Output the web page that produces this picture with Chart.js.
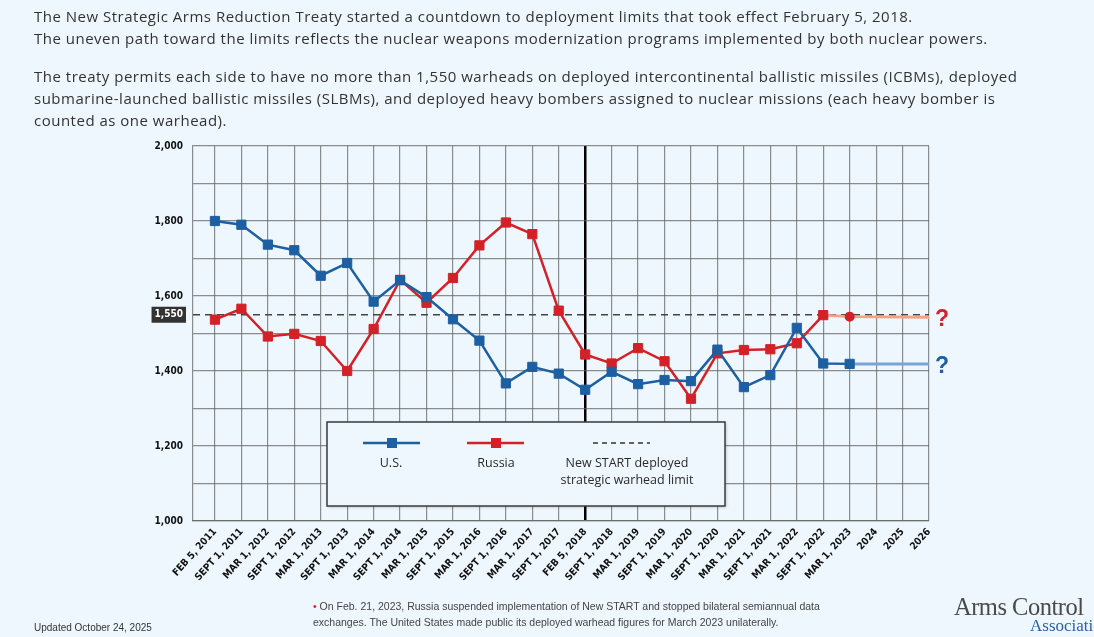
<!DOCTYPE html>
<html>
<head>
<meta charset="utf-8">
<script src="https://cdn.jsdelivr.net/npm/chart.js@4/dist/chart.umd.min.js"></script>
<style>
  body { margin: 0; background: #eef7fd; font-family: "Open Sans", "Liberation Sans", sans-serif; color: #333; }
  #page { position: relative; width: 1094px; height: 637px; overflow: hidden; }
  #chart-wrap { position: absolute; left: 0; top: 0; width: 1094px; height: 637px; }
  .intro { position: absolute; left: 34px; top: 5px; font-size: 15px; letter-spacing: 0.5px; line-height: 22px; white-space: nowrap; }
  .intro p { margin: 0 0 16px 0; }
  .updated { position: absolute; left: 34px; top: 622px; font: 10px "Liberation Sans Narrow", "Liberation Sans", sans-serif; color: #333; }
  .note { position: absolute; left: 313px; top: 598px; width: 560px; font: 10.5px "Liberation Sans Narrow", "Liberation Sans", sans-serif; line-height: 16px; color: #444; }
  .note .dot { color: #d42027; }
  .logo { position: absolute; left: 954px; top: 595px; font-family: "Liberation Serif", "DejaVu Serif", serif; line-height: 1; }
  .logo .a1 { font-size: 24.5px; color: #4a4a4a; letter-spacing: -0.5px; }
  .logo .a2 { font-size: 17px; color: #2a62a8; margin-left: 76px; display: block; margin-top: -3px; }
</style>
</head>
<body>
<div id="page">
  <div id="chart-wrap"><canvas id="start-chart"></canvas></div>
  <div class="intro">
    <p>The New Strategic Arms Reduction Treaty started a countdown to deployment limits that took effect February 5, 2018.<br>
    The uneven path toward the limits reflects the nuclear weapons modernization programs implemented by both nuclear powers.</p>
    <p>The treaty permits each side to have no more than 1,550 warheads on deployed intercontinental ballistic missiles (ICBMs), deployed<br>
    submarine-launched ballistic missiles (SLBMs), and deployed heavy bombers assigned to nuclear missions (each heavy bomber is<br>
    counted as one warhead).</p>
  </div>
  <div class="updated">Updated October 24, 2025</div>
  <div class="note"><span class="dot">•</span> On Feb. 21, 2023, Russia suspended implementation of New START and stopped bilateral semiannual data<br>exchanges. The United States made public its deployed warhead figures for March 2023 unilaterally.</div>
  <div class="logo"><span class="a1">Arms Control</span><span class="a2">Association</span></div>
</div>
<script>
// New START: ojivas desplegadas EE.UU. / Rusia
const dateLabels = ['FEB 5, 2011', 'SEPT 1, 2011', 'MAR 1, 2012', 'SEPT 1, 2012', 'MAR 1, 2013', 'SEPT 1, 2013',
    'MAR 1, 2014', 'SEPT 1, 2014', 'MAR 1, 2015', 'SEPT 1, 2015', 'MAR 1, 2016', 'SEPT 1, 2016', 'MAR 1, 2017',
    'SEPT 1, 2017', 'FEB 5, 2018', 'SEPT 1, 2018', 'MAR 1, 2019', 'SEPT 1, 2019', 'MAR 1, 2020', 'SEPT 1, 2020',
    'MAR 1, 2021', 'SEPT 1, 2021', 'MAR 1, 2022', 'SEPT 1, 2022', 'MAR 1, 2023', '2024', '2025', '2026'];
const usWarheads = [1800, 1790, 1737, 1722, 1654, 1688, 1585, 1642, 1597, 1538, 1481, 1367, 1411,
    1393, 1350, 1398, 1365, 1376, 1373, 1457, 1357, 1389, 1515, 1420, 1419];
const ruWarheads = [1537, 1566, 1492, 1499, 1480, 1400, 1512, 1643, 1582, 1648, 1735, 1796, 1765,
    1561, 1444, 1420, 1461, 1426, 1326, 1447, 1456, 1458, 1474, 1549];
const ruMar2023 = 1545;      // punto estimado (nota *)
const ruOutlook = 1543;      // línea clara hasta 2026
const usOutlook = 1419;
const treatyLimit = 1550;
const yTicks = [1000, 1100, 1200, 1300, 1400, 1500, 1550, 1600, 1700, 1800, 1900, 2000];
const deadlineIdx = 14;      // FEB 5, 2018

const X_MIN = -0.83, X_MAX = 27;
const BLUE = '#1d5fa3', RED = '#d42027', BLUE_LT = '#7aa3d6', RED_LT = '#f2a381';
const GRID = 'rgba(95,95,95,0.7)';
const lastIdx = dateLabels.length - 1;

const pts = (arr, start = 0) => arr.map((v, i) => ({ x: i + start, y: v }));

// leyenda recuadrada dentro del área del gráfico + signos de interrogación
const boxLegend = {
    id: 'boxLegend',
    afterDatasetsDraw(chart) {
        const { ctx, chartArea: a, scales: { y } } = chart;
        ctx.save();
        // interrogantes al final de las líneas proyectadas
        ctx.font = 'bold 23px "Liberation Sans", sans-serif';
        ctx.textBaseline = 'middle';
        ctx.fillStyle = RED;
        ctx.fillText('?', a.right + 6, y.getPixelForValue(ruOutlook) + 2);
        ctx.fillStyle = BLUE;
        ctx.fillText('?', a.right + 6, y.getPixelForValue(usOutlook) + 3);

        const L = a.left + 134, T = a.top + 276, W = 398, H = 84;
        ctx.shadowColor = 'rgba(0,0,0,0.25)';
        ctx.shadowBlur = 3; ctx.shadowOffsetX = 1; ctx.shadowOffsetY = 1;
        ctx.fillStyle = '#eef7fd';
        ctx.fillRect(L, T, W, H);
        ctx.shadowColor = 'transparent';
        ctx.strokeStyle = '#3a3a3a';
        ctx.lineWidth = 1.5;
        ctx.strokeRect(L, T, W, H);

        const ly = T + 21;
        const item = (x0, color, dash, marker) => {
            ctx.beginPath();
            ctx.setLineDash(dash);
            ctx.strokeStyle = color;
            ctx.lineWidth = dash.length ? 1.5 : 2.5;
            ctx.moveTo(x0, ly); ctx.lineTo(x0 + 57, ly);
            ctx.stroke();
            ctx.setLineDash([]);
            if (marker) { ctx.fillStyle = color; ctx.fillRect(x0 + 24, ly - 5, 10, 10); }
        };
        item(L + 36, BLUE, [], true);
        item(L + 140, RED, [], true);
        item(L + 266, '#333', [5, 4], false);

        ctx.fillStyle = '#2a2a2a';
        ctx.font = '12.5px "Open Sans", sans-serif';
        ctx.textAlign = 'center';
        ctx.fillText('U.S.', L + 64, T + 41);
        ctx.fillText('Russia', L + 169, T + 41);
        ctx.fillText('New START deployed', L + 300, T + 41);
        ctx.fillText('strategic warhead limit', L + 300, T + 58);
        ctx.restore();
    }
};

new Chart(document.getElementById('start-chart').getContext('2d'), {
    type: 'line',
    data: {
        datasets: [
            {
                label: 'U.S.', data: pts(usWarheads), order: 0,
                borderColor: BLUE, backgroundColor: BLUE, borderWidth: 2.5,
                pointStyle: 'rect', pointRadius: 6.5, pointBorderWidth: 1
            },
            {
                label: 'Russia', data: pts(ruWarheads), order: 0,
                borderColor: RED, backgroundColor: RED, borderWidth: 2.5,
                pointStyle: 'rect', pointRadius: 6.5, pointBorderWidth: 1
            },
            {
                label: 'Russia (outlook)', order: 1,
                data: [{ x: ruWarheads.length - 1, y: ruWarheads[ruWarheads.length - 1] },
                       { x: ruWarheads.length, y: ruMar2023 }, { x: lastIdx, y: ruOutlook }],
                borderColor: RED_LT, borderWidth: 3,
                pointRadius: [0, 3.5, 0], pointBackgroundColor: RED, pointBorderColor: RED
            },
            {
                label: 'U.S. (outlook)', order: 1,
                data: [{ x: usWarheads.length - 1, y: usWarheads[usWarheads.length - 1] }, { x: lastIdx, y: usOutlook }],
                borderColor: BLUE_LT, borderWidth: 3, pointRadius: 0
            },
            {
                label: 'New START deployed strategic warhead limit', order: 2,
                data: [{ x: X_MIN, y: treatyLimit }, { x: X_MAX, y: treatyLimit }],
                borderColor: '#444', borderWidth: 1.6, borderDash: [7, 5], pointRadius: 0
            }
        ]
    },
    options: {
        responsive: true, maintainAspectRatio: false, animation: false,
        layout: { padding: { left: 133, top: 146, right: 165, bottom: 36 } },
        plugins: { legend: { display: false }, tooltip: { enabled: false } },
        scales: {
            x: {
                type: 'linear', min: X_MIN, max: X_MAX,
                afterBuildTicks: (s) => { s.ticks = dateLabels.map((_, i) => ({ value: i })); },
                afterFit: (s) => { s.height = 80; },
                border: { display: true, color: GRID, width: 1.2 },
                grid: {
                    drawTicks: false,
                    color: (c) => c.tick && c.tick.value === deadlineIdx ? '#000' : GRID,
                    lineWidth: (c) => c.tick && c.tick.value === deadlineIdx ? 2.5 : 1.2
                },
                ticks: {
                    autoSkip: false, minRotation: 48, maxRotation: 48, padding: 5,
                    color: '#111',
                    font: { family: '"Liberation Sans Narrow", "DejaVu Sans Condensed", sans-serif', size: 10, weight: 'bold' },
                    callback: (v) => dateLabels[v] ?? ''
                }
            },
            y: {
                min: 1000, max: 2000,
                afterBuildTicks: (s) => { s.ticks = yTicks.map(v => ({ value: v })); },
                afterFit: (s) => { s.width = 60; },
                border: { display: true, color: GRID, width: 1.2 },
                grid: {
                    drawTicks: false,
                    color: (c) => c.tick && c.tick.value === treatyLimit ? 'transparent' : GRID,
                    lineWidth: 1.2
                },
                ticks: {
                    padding: 10,
                    color: (c) => c.tick && c.tick.value === treatyLimit ? '#fff' : '#111',
                    showLabelBackdrop: (c) => !!(c.tick && c.tick.value === treatyLimit),
                    backdropColor: '#333',
                    backdropPadding: { x: 3, y: 2 },
                    font: { family: '"Liberation Sans Narrow", "DejaVu Sans Condensed", sans-serif', size: 10, weight: 'bold' },
                    callback: (v) => (v % 200 === 0 || v === treatyLimit) ? v.toLocaleString('en-US') : ''
                }
            }
        }
    },
    plugins: [boxLegend]
});
</script>
</body>
</html>
